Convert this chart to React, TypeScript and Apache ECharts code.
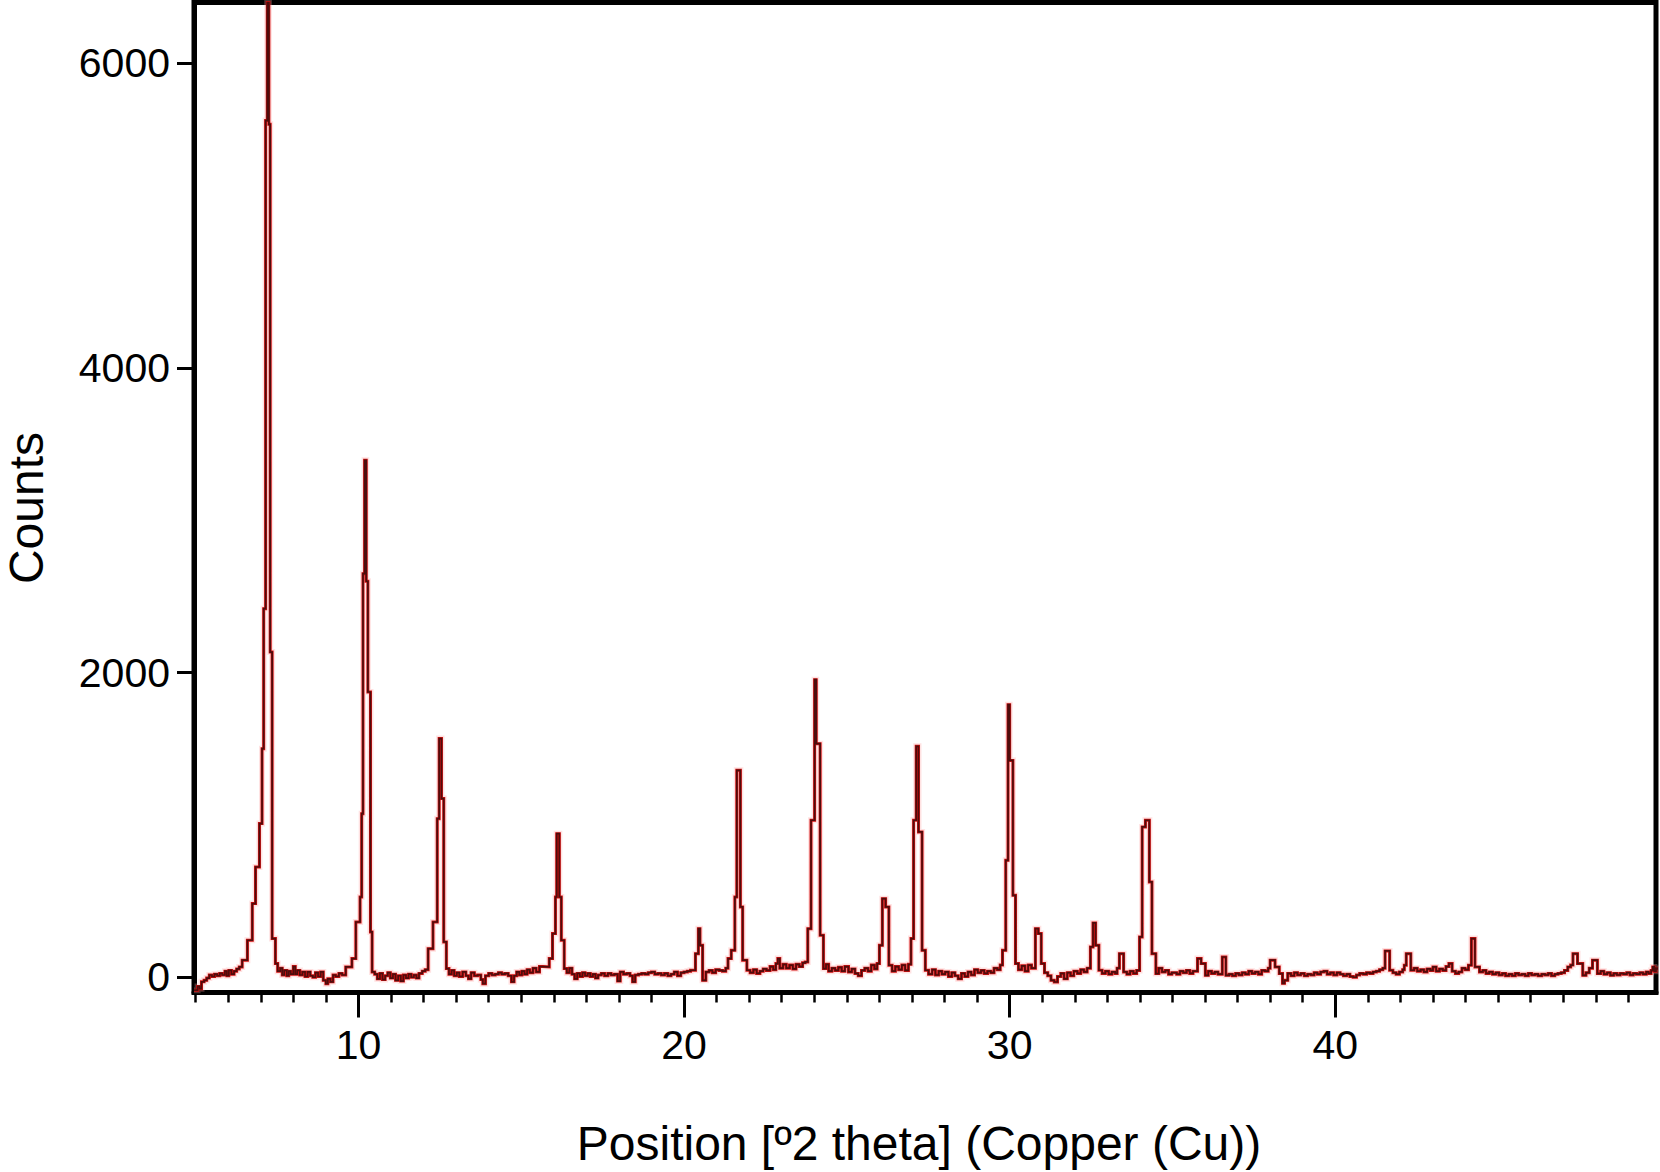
import React, { useEffect, useRef } from "react";
import * as echarts from "echarts";

const FONT = '"Liberation Sans", Arial, Helvetica, sans-serif';

const xMin = 4.95;
const xMax = 49.85;
const yMin = -100;
const yMax = 6400;
const xMajorTicks = [10, 20, 30, 40];
const xMinorTicks = [
  5, 6, 7, 8, 9, 10, 11, 12, 13, 14, 15, 16, 17, 18, 19, 20, 21, 22, 23, 24, 25, 26, 27,
  28, 29, 30, 31, 32, 33, 34, 35, 36, 37, 38, 39, 40, 41, 42, 43, 44, 45, 46, 47, 48, 49,
];
const yMajorTicks = [0, 2000, 4000, 6000];
const xTitle = "Position [\u00BA2 theta] (Copper (Cu))";
const yTitle = "Counts";

// [2theta, counts] (step pattern, each level starts at its angle)
const scanLow: [number, number][] = [
  [4.95, -85], [5.06, -60], [5.12, -75], [5.18, -30], [5.26, -20], [5.34, -5], [5.42, 15], [5.5, 5],
  [5.58, 20], [5.66, 10], [5.74, 25], [5.82, 15], [5.9, 40], [5.96, 10], [6.02, 45], [6.1, 20],
  [6.18, 40], [6.26, 55], [6.34, 68], [6.43, 112], [6.59, 243], [6.74, 484], [6.84, 724], [6.96, 1009],
  [7.04, 1501], [7.09, 2420], [7.15, 5625], [7.2, 6500], [7.25, 5600], [7.29, 2135], [7.35, 254], [7.45, 90],
  [7.52, 40], [7.6, 60], [7.66, 15], [7.72, 45], [7.8, 10], [7.86, 40], [7.92, 20], [8.0, 70],
  [8.06, 20], [8.12, 45], [8.2, 15], [8.28, 35], [8.36, 5], [8.44, 35], [8.52, 10], [8.6, 0],
  [8.68, 30], [8.76, 5], [8.84, 35], [8.92, -20], [9.0, -42], [9.06, -10], [9.14, -30], [9.22, 15],
  [9.3, 5], [9.4, 25], [9.5, 15], [9.61, 68], [9.8, 123], [9.92, 363], [10.05, 527], [10.1, 1074],
  [10.14, 2650], [10.19, 3394], [10.24, 2600], [10.29, 1873], [10.37, 298], [10.42, 35], [10.5, 20], [10.58, -10],
  [10.66, 25], [10.74, -15], [10.82, 10], [10.9, 30], [10.98, -5], [11.06, 20], [11.14, -20], [11.22, 10],
  [11.3, -25], [11.38, 15], [11.46, -5], [11.54, 20], [11.62, 0], [11.7, 15], [11.78, -5], [11.86, 25],
  [11.96, 40], [12.05, 50], [12.14, 188], [12.29, 363], [12.42, 1041], [12.48, 1567], [12.55, 1173], [12.62, 232],
  [12.7, 57], [12.78, 20], [12.86, 45], [12.94, 10], [13.02, 30], [13.1, 5], [13.2, 35], [13.3, 10],
  [13.38, -10], [13.46, 30], [13.56, 10], [13.66, 15], [13.76, -15], [13.82, -42], [13.9, 10], [14.0, 25],
  [14.1, 15], [14.2, 20], [14.3, 30], [14.4, 20], [14.5, 25], [14.6, 10], [14.7, -30], [14.78, 10],
  [14.86, 35], [14.94, 15], [15.02, 40], [15.1, 20], [15.18, 50], [15.26, 30], [15.36, 60], [15.46, 35],
  [15.56, 70], [15.66, 68], [15.86, 123], [15.96, 287], [16.05, 527], [16.09, 943], [16.17, 527], [16.23, 243],
  [16.32, 57], [16.4, 30], [16.48, 60], [16.56, 20], [16.64, -10], [16.72, 25], [16.8, 5], [16.88, 30],
  [16.96, 10], [17.04, 25], [17.12, 5], [17.2, 20], [17.28, -5], [17.36, 15], [17.46, 25], [17.56, 10],
  [17.66, 25], [17.76, 15], [17.86, 20], [17.96, -25], [18.04, 35], [18.14, 20], [18.24, 25], [18.34, 10],
  [18.42, -30], [18.5, 15], [18.6, 20], [18.7, 25], [18.8, 20], [18.9, 30], [19.0, 35], [19.1, 20],
  [19.2, 25], [19.3, 15], [19.4, 25], [19.5, 10], [19.6, 20], [19.7, 35], [19.8, 10], [19.9, 30],
  [20.0, 35], [20.1, 40], [20.2, 46],
];

const scanMid: [number, number][] = [
  [20.35, 155], [20.44, 319], [20.49, 210], [20.57, -20], [20.67, 35], [20.77, 45], [20.87, 30], [20.97, 50],
  [21.08, 45], [21.18, 40], [21.28, 60], [21.35, 123], [21.45, 177], [21.56, 527], [21.62, 1359], [21.73, 462],
  [21.8, 112], [21.93, 46], [22.03, 30], [22.13, 50], [22.23, 25], [22.33, 40], [22.43, 55], [22.53, 45],
  [22.64, 70], [22.74, 50], [22.82, 90], [22.88, 123], [22.94, 60], [23.04, 85], [23.14, 60], [23.24, 80],
  [23.34, 55], [23.44, 85], [23.54, 70], [23.64, 95], [23.72, 101], [23.8, 319], [23.9, 1031], [24.01, 1954],
  [24.06, 1534], [24.18, 276], [24.28, 57], [24.36, 85], [24.44, 40], [24.54, 60], [24.64, 45], [24.74, 65],
  [24.84, 40], [24.94, 70], [25.05, 35], [25.15, 55], [25.25, 25], [25.35, 10], [25.45, 45], [25.55, 60],
  [25.65, 40], [25.75, 80], [25.85, 55], [25.93, 90], [26.0, 210], [26.09, 516], [26.19, 462], [26.29, 79],
  [26.39, 40], [26.49, 70], [26.59, 50], [26.69, 80], [26.79, 45], [26.89, 85], [26.97, 254], [27.05, 1031],
  [27.13, 1516], [27.2, 954], [27.31, 177], [27.41, 46], [27.51, 20], [27.62, 50], [27.72, 15], [27.82, 40],
  [27.92, 20], [28.02, 35], [28.12, 5], [28.22, 30], [28.32, 10], [28.42, -10], [28.52, 25], [28.62, 5],
  [28.72, 35], [28.82, 15], [28.92, 50], [29.02, 30], [29.12, 45], [29.22, 25], [29.32, 40], [29.42, 30],
  [29.52, 60], [29.62, 50], [29.71, 80], [29.78, 177], [29.88, 768], [29.95, 1790], [30.0, 1424], [30.1, 538],
  [30.18, 90], [30.27, 50], [30.37, 75], [30.47, 40], [30.57, 80], [30.67, 60], [30.79, 319], [30.88, 287],
  [30.97, 90], [31.07, 30], [31.17, 10], [31.27, -20], [31.37, -31], [31.47, 5], [31.57, 25], [31.67, -10],
  [31.77, 30], [31.87, 10], [31.97, 40], [32.08, 25], [32.18, 50], [32.28, 35], [32.38, 60], [32.48, 199],
  [32.56, 357], [32.64, 210], [32.74, 46], [32.84, 25], [32.94, 40], [33.04, 20], [33.14, 35], [33.24, 25],
  [33.3, 60], [33.37, 155], [33.5, 35], [33.6, 20], [33.7, 40], [33.8, 25], [33.9, 45], [33.99, 265],
  [34.07, 987], [34.17, 1031], [34.29, 626], [34.37, 155], [34.49, 24], [34.58, 60], [34.68, 35], [34.78, 45],
  [34.88, 20], [34.98, 30],
];

const scanHigh: [number, number][] = [
  [35.13, 20], [35.23, 40], [35.33, 30], [35.43, 45], [35.53, 25], [35.63, 40], [35.77, 123], [35.88, 90],
  [36.01, 13], [36.1, 40], [36.2, 25], [36.3, 35], [36.4, 20], [36.53, 133], [36.64, 13], [36.74, 20],
  [36.84, 10], [36.94, 25], [37.04, 15], [37.14, 30], [37.24, 20], [37.34, 40], [37.44, 25], [37.54, 35],
  [37.64, 20], [37.74, 45], [37.84, 40], [37.94, 60], [38.0, 112], [38.15, 68], [38.28, 24], [38.38, -40],
  [38.44, -20], [38.54, 25], [38.64, 10], [38.74, 30], [38.84, 15], [38.94, 25], [39.05, 10], [39.15, 20],
  [39.25, 15], [39.35, 30], [39.45, 20], [39.55, 35], [39.65, 40], [39.75, 20], [39.85, 30], [39.95, 15],
  [40.05, 30], [40.15, 20], [40.25, 10], [40.35, 20], [40.45, 5], [40.55, 0], [40.65, 15], [40.75, 25],
  [40.86, 20], [40.96, 30], [41.06, 25], [41.16, 35], [41.26, 40], [41.36, 50], [41.46, 60], [41.53, 173],
  [41.67, 46], [41.77, 30], [41.87, 20], [41.97, 35], [42.07, 50], [42.12, 79], [42.18, 155], [42.32, 46],
  [42.42, 60], [42.52, 40], [42.62, 50], [42.72, 35], [42.82, 55], [42.92, 45], [43.0, 68], [43.1, 40],
  [43.2, 55], [43.3, 45], [43.4, 70], [43.49, 90], [43.59, 40], [43.69, 25], [43.79, 35], [43.89, 60],
  [43.99, 50], [44.09, 79], [44.18, 254], [44.29, 68], [44.43, 35], [44.53, 45], [44.63, 25], [44.73, 35],
  [44.83, 20], [44.93, 30], [45.03, 15], [45.13, 25], [45.23, 10], [45.33, 20], [45.43, 10], [45.53, 25],
  [45.63, 15], [45.73, 20], [45.83, 10], [45.93, 25], [46.03, 15], [46.13, 20], [46.23, 10], [46.34, 20],
  [46.44, 15], [46.54, 25], [46.64, 10], [46.74, 20], [46.84, 25], [46.94, 30], [47.04, 45], [47.14, 68],
  [47.23, 80], [47.3, 155], [47.44, 90], [47.6, 13], [47.7, 30], [47.8, 60], [47.9, 112], [48.05, 24],
  [48.15, 40], [48.25, 20], [48.35, 30], [48.45, 13], [48.55, 25], [48.65, 15], [48.75, 25], [48.85, 20],
  [48.95, 30], [49.05, 15], [49.15, 25], [49.25, 20], [49.35, 30], [49.45, 20], [49.55, 35], [49.62, 25],
  [49.7, 45], [49.75, 68], [49.8, 40], [49.85, 60], [49.9, 50],
];

export default function App() {
  const ref = useRef<HTMLDivElement>(null);

  useEffect(() => {
    document.body.style.margin = "0";
    const chart = echarts.init(ref.current!, null, { renderer: "svg" });
    const scan = [...scanLow, ...scanMid, ...scanHigh];

    const drawScan = (name: string, color: string, width: number, z: number) => ({
      type: "line",
      name,
      data: scan,
      xAxisIndex: 0,
      yAxisIndex: 0,
      step: "end",
      symbol: "none",
      showSymbol: false,
      silent: true,
      clip: true,
      z,
      lineStyle: { color, width, cap: "butt", join: "miter" },
    });

    const plain = (v: number) => String(v);

    chart.setOption({
      animation: false,
      backgroundColor: "#ffffff",
      textStyle: { fontFamily: FONT },
      grid: {
        left: 194,
        right: 4,
        top: 2.5,
        bottom: 179.5,
        show: true,
        borderColor: "#000",
        borderWidth: 5,
        backgroundColor: "transparent",
      },
      xAxis: [
        {
          type: "value",
          min: xMin,
          max: xMax,
          position: "bottom",
          axisLine: { show: true, onZero: false, lineStyle: { color: "#000", width: 5 } },
          axisTick: { show: true, customValues: xMajorTicks, length: 25, lineStyle: { color: "#000", width: 3 } },
          axisLabel: {
            show: true,
            customValues: xMajorTicks,
            formatter: plain,
            fontSize: 41,
            fontFamily: FONT,
            color: "#000",
            margin: 32,
          },
          splitLine: { show: false },
        },
        {
          type: "value",
          min: xMin,
          max: xMax,
          position: "bottom",
          axisLine: { show: false, onZero: false },
          axisTick: { show: true, customValues: xMinorTicks, length: 10, lineStyle: { color: "#000", width: 2.5 } },
          axisLabel: { show: false },
          splitLine: { show: false },
        },
      ],
      yAxis: {
        type: "value",
        min: yMin,
        max: yMax,
        axisLine: { show: true, onZero: false, lineStyle: { color: "#000", width: 5 } },
        axisTick: { show: true, customValues: yMajorTicks, length: 17, lineStyle: { color: "#000", width: 3 } },
        axisLabel: {
          show: true,
          customValues: yMajorTicks,
          formatter: plain,
          fontSize: 41,
          fontFamily: FONT,
          color: "#000",
          margin: 24,
        },
        splitLine: { show: false },
      },
      graphic: [
        {
          type: "text",
          x: 919,
          y: 1143,
          style: {
            text: xTitle,
            font: `48px ${FONT}`,
            fill: "#000",
            align: "center",
            verticalAlign: "middle",
          },
        },
        {
          type: "text",
          x: 26,
          y: 508,
          rotation: Math.PI / 2,
          style: {
            text: yTitle,
            font: `48px ${FONT}`,
            fill: "#000",
            align: "center",
            verticalAlign: "middle",
          },
        },
      ],
      series: [
        drawScan("halo", "rgba(255,160,160,0.3)", 6, 1),
        drawScan("scan", "#d01010", 3, 2),
        drawScan("profile", "#4e0c0c", 1.7, 3),
      ],
    });

    return () => chart.dispose();
  }, []);

  return <div ref={ref} style={{ width: 1660, height: 1172 }} />;
}
